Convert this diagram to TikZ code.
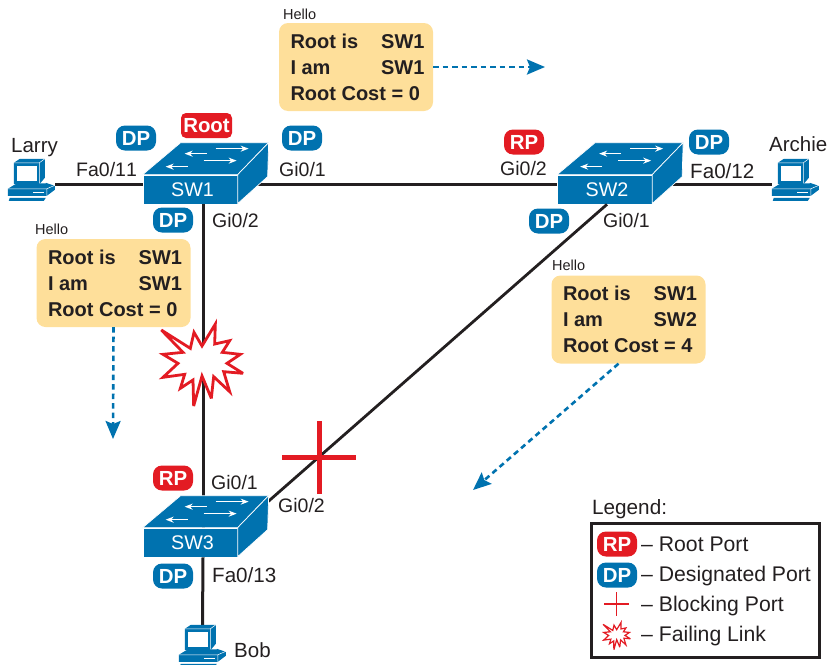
\documentclass[tikz,border=0pt]{standalone}
\usepackage{fontspec}
\setmainfont[Kerning=Off]{Liberation Sans}
\usetikzlibrary{arrows.meta}
\definecolor{ink}{HTML}{231F20}
\definecolor{ciscoblue}{HTML}{0072AF}
\definecolor{alertred}{HTML}{E31B23}
\definecolor{sand}{HTML}{FEDF9A}
\newcommand{\fs}[1]{\fontsize{#1}{#1}\selectfont}
\newcommand{\cl}[2]{\hspace*{3pt}\makebox[134pt][l]{#1\hfill #2}}
\newcommand{\swbody}[1]{%
  \begin{scope}[shift={(#1.north west)}]
    \draw[swedge] (0,0) -- (38,-32) -- (126,-32) -- (95,0) -- cycle;
    \draw[swedge] (95,0) -- (126,-32) -- (125,2) -- (95,29) -- cycle;
    \draw[swarrow] (73,-26) -- (106,-26);
    \draw[swarrow] (64,-21) -- (42,-21);
    \draw[swarrow] (61,-14) -- (94,-14);
    \draw[swarrow] (45,-8) -- (23,-8);
  \end{scope}}
\newcommand{\pcbody}[1]{%
  \begin{scope}[shift={(#1.north west)}]
    \fill[ciscoblue] (6,4) -- (12,0) -- (37,0) -- (37,19) -- (32,25) -- (6,25) -- cycle;
    \fill[white] (9,7) rectangle (29,22);
    \draw[white,line width=.5pt] (6,4) -- (31.5,4) -- (37,0) (31.5,4) -- (31.5,25);
    \fill[ciscoblue] (0,30) -- (9,24.5) -- (38,24.5) -- (38,24) -- (47,27) -- (47,31) -- (39,37) -- (0,37) -- cycle;
    \draw[white,line width=.5pt] (0,30) -- (39,30) -- (47,26.5) (39,30) -- (39,37);
    \fill[white] (25,33) rectangle (36,34.2);
    \fill[ciscoblue] (2,39) -- (38,39) -- (36,42) -- (1,42) -- cycle;
  \end{scope}}
\newcommand{\burst}[3]{%
  \begin{scope}[shift={(#1)},scale=#2,shift={(-160,-135)}]
    \draw[fill=white,draw=alertred,line width=#3,miter limit=4]
      (35,30) -- (122,85) -- (133,37) -- (157,78) -- (197,12) -- (195,72) -- (240,62) -- (218,97) --
      (272,103) -- (232,130) -- (280,160) -- (222,155) -- (240,215) -- (192,170) -- (185,235) --
      (157,168) -- (132,258) -- (130,180) -- (92,205) -- (105,163) -- (40,172) -- (85,130) --
      (40,103) -- (100,97) -- cycle;
  \end{scope}}
\tikzset{
  swfront/.style={rectangle,fill=ciscoblue,draw=white,line width=.7pt,minimum width=95pt,minimum height=29pt,inner sep=0pt,text=white,font=\fs{19.7}},
  swedge/.style={fill=ciscoblue,draw=white,line width=.7pt,line join=round},
  swarrow/.style={draw=white,line width=1.5pt,-{Stealth[length=8pt,width=6pt]}},
  pcspot/.style={rectangle,minimum width=47pt,minimum height=42pt,inner sep=0pt},
  link/.style={draw=ink,line width=3pt},
  badge/.style={rectangle,rounded corners=9pt,minimum width=40pt,minimum height=25pt,inner sep=0pt,text=white,font=\fs{20.4}\bfseries},
  dpbadge/.style={badge,fill=ciscoblue},
  rpbadge/.style={badge,fill=alertred},
  lab/.style={anchor=base west,inner sep=0pt,text=ink,font=\fs{19.5}},
  whoname/.style={lab,font=\fs{20.5}},
  hellotext/.style={lab,font=\fs{14.5}},
  legtext/.style={lab,font=\fs{21.2}},
  callout/.style={rectangle,rounded corners=9pt,fill=sand,minimum width=154pt,minimum height=88pt,inner sep=0pt,align=left,text=ink,font=\fontsize{20}{26}\selectfont\bfseries},
  flow/.style={draw=ciscoblue,line width=2.6pt,dash pattern=on 5.5pt off 4pt,-{Stealth[length=18pt,width=15pt,inset=3pt]}},
  blockmark/.style={draw=alertred,line width=5pt},
  blockthin/.style={draw=alertred,line width=1.5pt}
}
\begin{document}
\begin{tikzpicture}[x=1pt,y=-1pt]
\useasboundingbox (0,0) rectangle (829,664);
% switches (front faces) and PCs
\node[swfront] (sw1) at (190.5,189.5) {\hspace*{4pt}SW1};
\node[swfront] (sw2) at (605,189.5) {\hspace*{4pt}SW2};
\node[swfront] (sw3) at (190.5,542.5) {\hspace*{4pt}SW3};
\node[pcspot] (larry) at (31.5,180) {};
\node[pcspot] (archie) at (795.5,180) {};
\node[pcspot] (bob) at (202.5,646) {};
% connectors
\draw[link] ([yshift=-4pt]larry.east) -- ([yshift=5.5pt]sw1.west);
\draw[link] ([yshift=5.5pt]sw1.east) -- ([yshift=5.5pt]sw2.west);
\draw[link] ([yshift=5.5pt]sw2.east) -- ([yshift=-4pt]archie.west);
\draw[link] ([xshift=12.5pt]sw1.south) -- ([xshift=12.5pt]sw3.north);
\draw[link] ([xshift=12.5pt]sw3.south) -- (bob.north);
\draw[link,line width=2.8pt] ([xshift=2pt]sw2.south) -- (sw3.north east);
% bodies
\swbody{sw1}\swbody{sw2}\swbody{sw3}
\pcbody{larry}\pcbody{archie}\pcbody{bob}
% failure marks
\coordinate (burstA) at (203,365);
\burst{burstA}{.3333}{2.8pt}
\draw[blockmark] (282,457) -- (356,457);
\draw[blockmark] (319,421) -- (319,494);
% callouts
\node[callout] (topbox) at (356,67) {\cl{Root is}{SW1}\\\cl{I am}{SW1}\\\cl{Root Cost = 0}{}};
\node[callout] (leftbox) at (113.5,283) {\cl{Root is}{SW1}\\\cl{I am}{SW1}\\\cl{Root Cost = 0}{}};
\node[callout] (rightbox) at (628.5,319.5) {\cl{Root is}{SW1}\\\cl{I am}{SW2}\\\cl{Root Cost = 4}{}};
\node[hellotext] (h1) at (283,19) {Hello};
\node[hellotext] (h2) at (35,234) {Hello};
\node[hellotext] (h3) at (552,270) {Hello};
% flows
\coordinate (flowA) at (545,67);
\coordinate (flowB) at (113,439);
\coordinate (flowC) at (473,490);
\draw[flow] (topbox.east) -- (flowA);
\draw[flow] (leftbox.south) -- (flowB);
\draw[flow] ([xshift=-10pt]rightbox.south) -- (flowC);
% badges
\node[dpbadge] (b1) at (136,138) {DP};
\node[rpbadge,rounded corners=5pt,minimum width=51pt] (root) at (206.5,125.5) {Root};
\node[dpbadge] (b2) at (302,138) {DP};
\node[dpbadge] (b3) at (173,220) {DP};
\node[rpbadge] (b4) at (524,142) {RP};
\node[dpbadge] (b5) at (709,142) {DP};
\node[dpbadge] (b6) at (549,221) {DP};
\node[rpbadge] (b7) at (173,478) {RP};
\node[dpbadge] (b8) at (173,576) {DP};
% labels
\node[whoname] (n1) at (11,152) {Larry};
\node[whoname] (n2) at (769,151) {Archie};
\node[whoname] (n3) at (234,657) {Bob};
\node[lab] (p1) at (76,176) {Fa0/11};
\node[lab] (p2) at (279,176) {Gi0/1};
\node[lab] (p3) at (212,227) {Gi0/2};
\node[lab] (p4) at (500,175) {Gi0/2};
\node[lab,font=\fs{20.6}] (p5) at (690,178) {Fa0/12};
\node[lab] (p6) at (603,227) {Gi0/1};
\node[lab] (p7) at (211,489) {Gi0/1};
\node[lab] (p8) at (278,512) {Gi0/2};
\node[lab,font=\fs{20.6}] (p9) at (212,582) {Fa0/13};
% legend
\node[lab,font=\fs{20.7}] (lt) at (592,514) {Legend:};
\node[rectangle,draw=ink,line width=3pt,minimum width=228pt,minimum height=134pt,inner sep=0pt] (lbox) at (705,590) {};
\node[rpbadge] (lrp) at (617,544) {RP};
\node[dpbadge] (ldp) at (617,575) {DP};
\draw[blockthin] (604,604) -- (629,604);
\draw[blockthin] (616.5,592) -- (616.5,616);
\coordinate (burstB) at (617,636);
\burst{burstB}{.1111}{1.2pt}
\node[legtext] (l1) at (641,551) {– Root Port};
\node[legtext] (l2) at (641,581) {– Designated Port};
\node[legtext] (l3) at (641,611) {– Blocking Port};
\node[legtext] (l4) at (641,641) {– Failing Link};
\end{tikzpicture}
\end{document}
